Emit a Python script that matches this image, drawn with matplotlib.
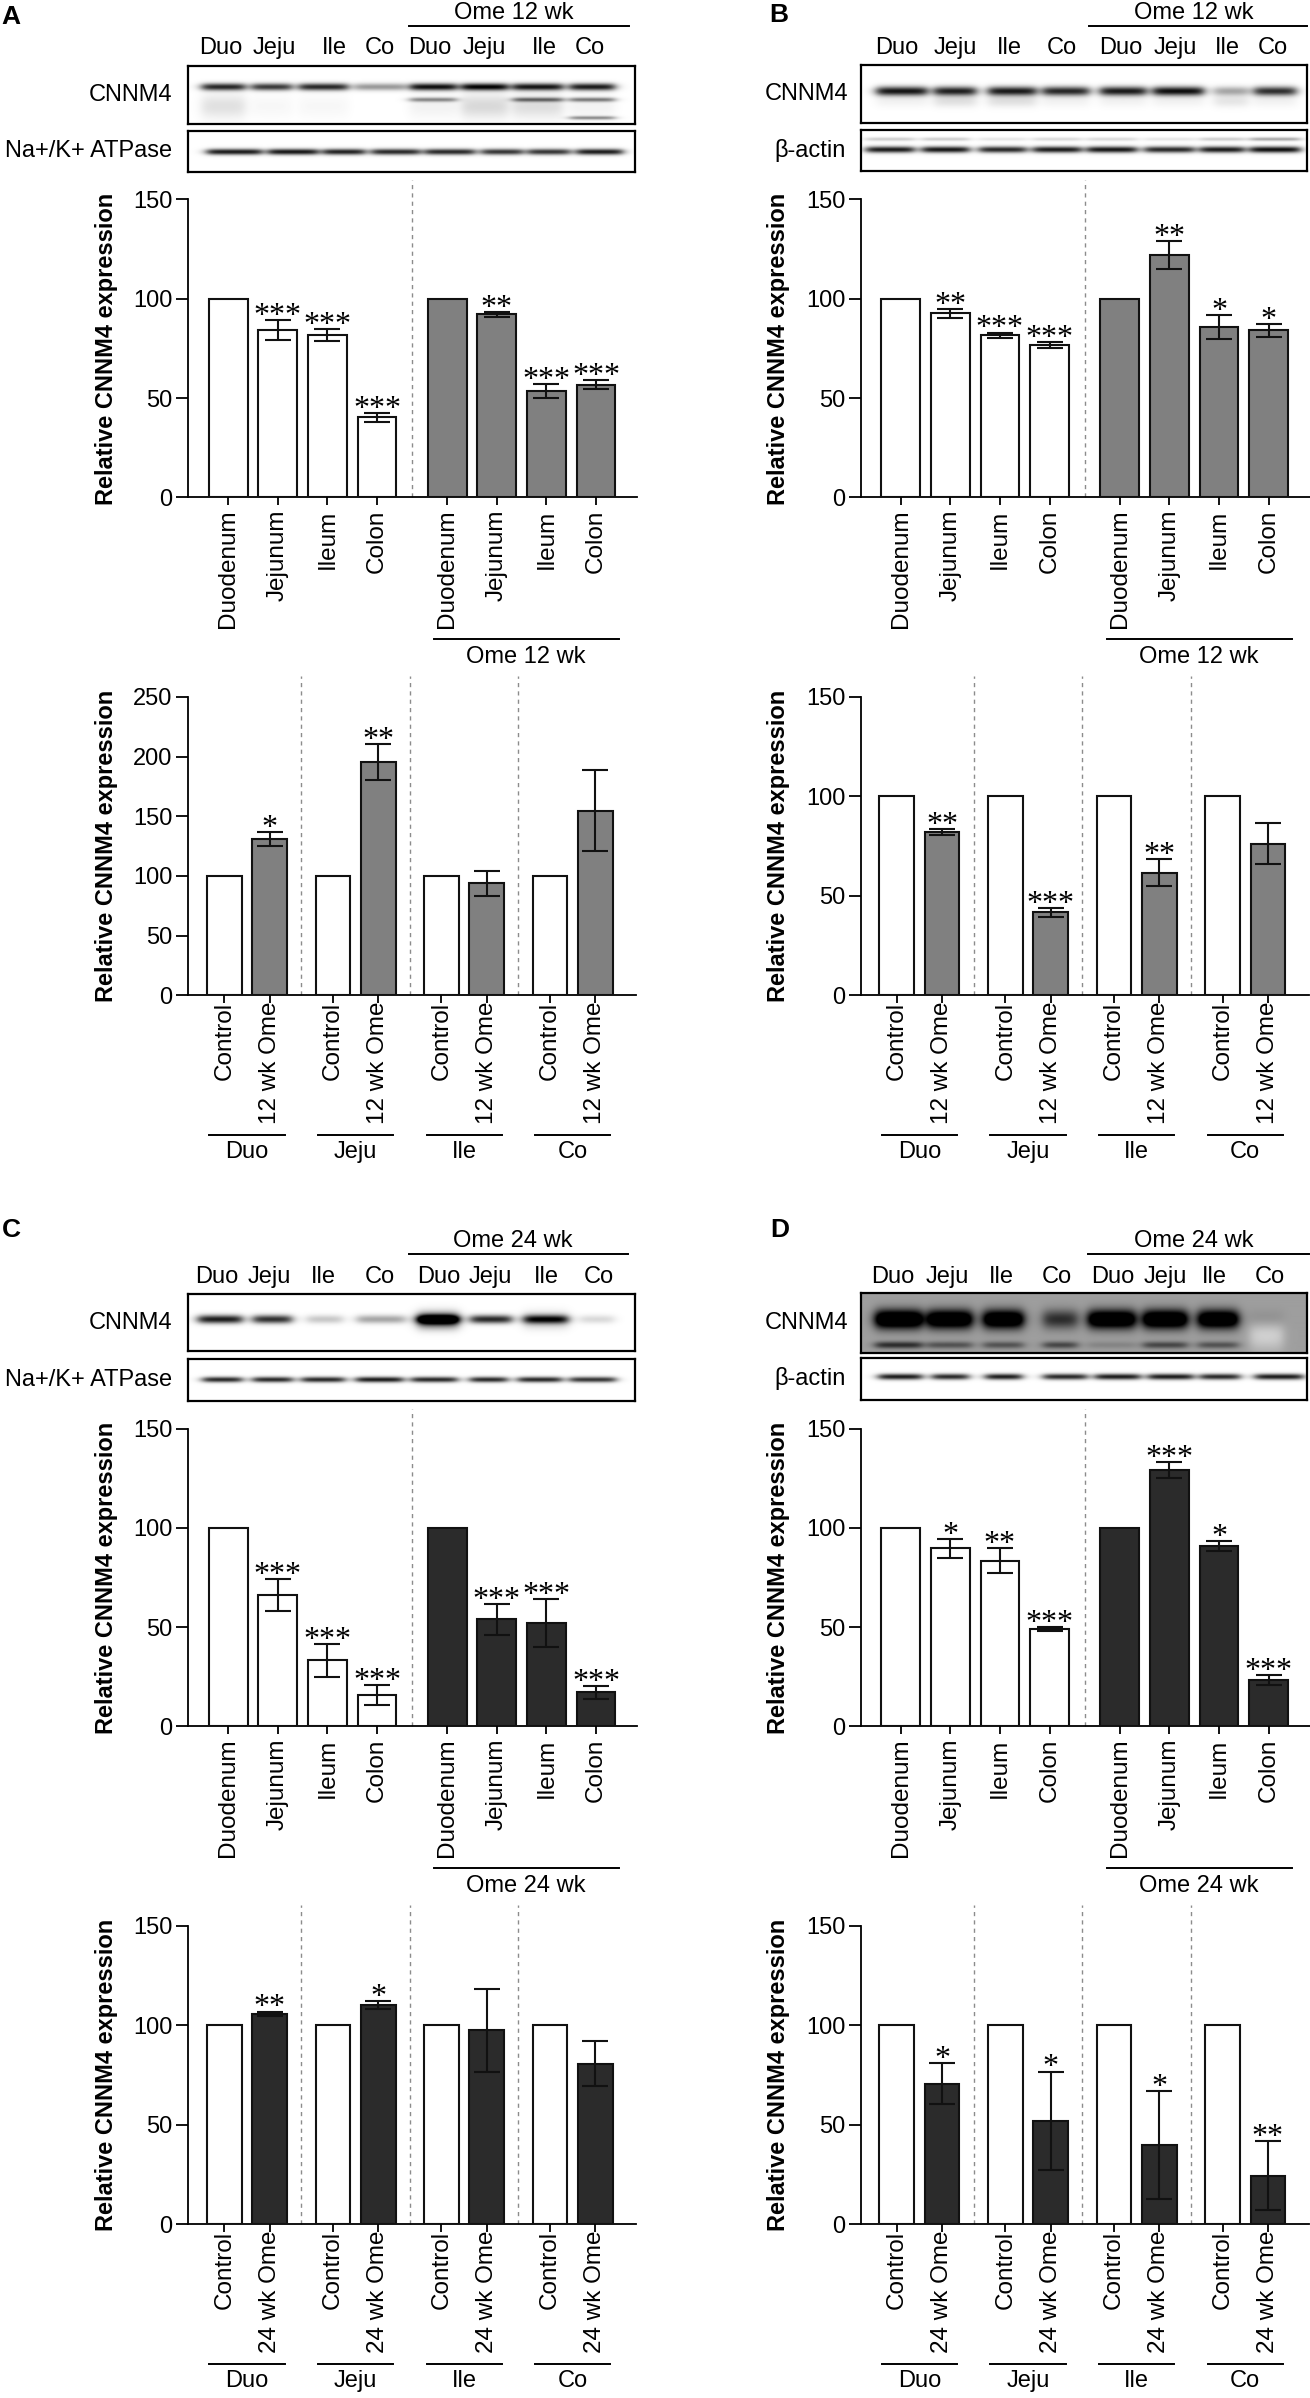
import numpy as np
import matplotlib
matplotlib.use("Agg")
import matplotlib.pyplot as plt
from matplotlib.lines import Line2D
from matplotlib.transforms import blended_transform_factory as blend

plt.rcParams['font.family'] = ['Liberation Sans', 'DejaVu Sans']

# ---------------------------------------------------------------- data
tissues = ["Duodenum", "Jejunum", "Ileum", "Colon"]
tissue_abbr = ["Duo", "Jeju", "Ile", "Co"]
lane_labels = tissue_abbr + tissue_abbr

# Panel A (12 wk, Na+/K+ ATPase)
A_ctrl_mean = [100, 84.5, 81.7, 40.3]
A_ctrl_sem = [0, 5.0, 3.0, 2.2]
A_ctrl_sig = ["", "***", "***", "***"]
A_ome_mean = [100, 92.2, 53.6, 56.7]
A_ome_sem = [0, 1.3, 3.5, 2.2]
A_ome_sig = ["", "**", "***", "***"]
A2_ctrl_mean = [100, 100, 100, 100]
A2_ome_mean = [131.0, 195.5, 93.8, 154.5]
A2_ome_sem = [6.1, 15.3, 10.6, 34.0]
A2_ome_sig = ["*", "**", "", ""]

# Panel B (12 wk, beta-actin)
B_ctrl_mean = [100, 92.6, 81.7, 76.7]
B_ctrl_sem = [0, 2.4, 1.3, 1.4]
B_ctrl_sig = ["", "**", "***", "***"]
B_ome_mean = [100, 122.0, 86.0, 84.2]
B_ome_sem = [0, 7.0, 6.0, 3.2]
B_ome_sig = ["", "**", "*", "*"]
B2_ctrl_mean = [100, 100, 100, 100]
B2_ome_mean = [82.2, 41.8, 61.7, 76.2]
B2_ome_sem = [1.4, 2.3, 6.6, 10.4]
B2_ome_sig = ["**", "***", "**", ""]

# Panel C (24 wk, Na+/K+ ATPase)
C_ctrl_mean = [100, 66.2, 33.2, 15.8]
C_ctrl_sem = [0, 7.9, 8.2, 4.9]
C_ctrl_sig = ["", "***", "***", "***"]
C_ome_mean = [100, 54.0, 52.1, 17.1]
C_ome_sem = [0, 7.8, 12.2, 3.2]
C_ome_sig = ["", "***", "***", "***"]
C2_ctrl_mean = [100, 100, 100, 100]
C2_ome_mean = [105.8, 110.2, 97.6, 80.8]
C2_ome_sem = [1.1, 2.1, 20.9, 11.4]
C2_ome_sig = ["**", "*", "", ""]

# Panel D (24 wk, beta-actin)
D_ctrl_mean = [100, 89.6, 83.4, 48.9]
D_ctrl_sem = [0, 4.7, 6.4, 1.1]
D_ctrl_sig = ["", "*", "**", "***"]
D_ome_mean = [100, 129.0, 90.8, 23.4]
D_ome_sem = [0, 4.0, 2.7, 2.4]
D_ome_sig = ["", "***", "*", "***"]
D2_ctrl_mean = [100, 100, 100, 100]
D2_ome_mean = [70.6, 52.0, 40.0, 24.5]
D2_ome_sem = [10.3, 24.8, 27.0, 17.5]
D2_ome_sig = ["*", "*", "*", "**"]

# western blot band intensities (0 = none, 1 = black), one per lane
A_cnnm4_band = [0.85, 0.78, 0.85, 0.40, 0.95, 1.0, 0.92, 0.90]
A_cnnm4_band2 = [0, 0, 0, 0, 0.45, 0, 0.55, 0.50]
A_cnnm4_band3 = [0, 0, 0, 0, 0, 0, 0, 0.45]
A_cnnm4_smear = [0.12, 0.03, 0.03, 0, 0.05, 0.15, 0.13, 0.05]
A_atpase_band = [0.90, 0.92, 0.88, 0.85, 0.85, 0.80, 0.80, 0.90]

B_cnnm4_band = [0.92, 0.88, 0.90, 0.85, 0.90, 0.95, 0.35, 0.82]
B_cnnm4_smear = [0.05, 0.12, 0.12, 0.05, 0.05, 0.05, 0.10, 0.05]
B_actin_band = [0.90, 0.92, 0.85, 0.90, 0.92, 0.85, 0.90, 0.95]
B_actin_upper = [0.20, 0.20, 0.10, 0.15, 0.15, 0.10, 0.20, 0.35]

C_cnnm4_band = [0.90, 0.82, 0.22, 0.35, 1.0, 0.85, 0.80, 0.15]
C_cnnm4_core = [0, 0, 0, 0, 0.8, 0, 0.25, 0]
C_atpase_band = [0.85, 0.85, 0.85, 0.90, 0.85, 0.85, 0.85, 0.80]

D_cnnm4_band = [1.0, 0.95, 0.95, 0.45, 0.95, 0.98, 0.95, 0.10]
D_cnnm4_band2 = [0.45, 0.30, 0.30, 0.35, 0.10, 0.35, 0.30, 0]
D_cnnm4_clear = [0, 0, 0, 0, 0, 0, 0, -0.2]
D_actin_band = [0.90, 0.85, 0.90, 0.85, 0.90, 0.90, 0.85, 0.90]

# ---------------------------------------------------------------- layout helpers
W, H = 1310, 2398
fig = plt.figure(figsize=(W / 100, H / 100), dpi=100)

GRAY = '#808080'
BLACK = '#2b2b2b'
EDGE = '#111111'
STAR = dict(family=['Liberation Serif', 'DejaVu Serif'], fontsize=23)


def ax_px(x0, y0, x1, y1):
    return fig.add_axes([x0 / W, 1 - y1 / H, (x1 - x0) / W, (y1 - y0) / H])


def ftext(x, y, s, **kw):
    kw.setdefault('fontsize', 17)
    fig.text(x / W, 1 - y / H, s, **kw)


def fline(x0, x1, y, lw=1.4):
    fig.add_artist(Line2D([x0 / W, x1 / W], [1 - y / H] * 2,
                          transform=fig.transFigure, color='black', lw=lw))


def draw_bars(ax, pos, means, sems, sigs, color, width):
    ax.bar(pos, means, width=width, color=color, edgecolor=EDGE,
           linewidth=1.5, zorder=3)
    for x, m, s, g in zip(pos, means, sems, sigs):
        if s > 0:
            ax.errorbar(x, m, yerr=s, fmt='none', ecolor=EDGE, elinewidth=1.5,
                        capsize=9.5, capthick=1.5, zorder=4)
        if g:
            ax.annotate(g, (x, m + s), xytext=(0, -2.8), textcoords='offset points',
                        ha='center', va='baseline', zorder=5, **STAR)


def style_axes(ax, width_px):
    for sp in ['top', 'right']:
        ax.spines[sp].set_visible(False)
    for sp in ['left', 'bottom']:
        ax.spines[sp].set_linewidth(1.3)
    ax.tick_params(axis='y', length=8.5, width=1.3, labelsize=17, pad=2.5)
    ax.set_ylabel('Relative CNNM4 expression', fontsize=17, fontweight='bold')
    ax.yaxis.set_label_coords(-70 / width_px, 0.5)
    ax.patch.set_alpha(0)


def vdash(ax, x, top):
    ax.plot([x, x], [0, top], transform=blend(ax.transData, ax.transAxes),
            color='#8c8c8c', lw=1.0, ls=(0, (3, 3)), clip_on=False, zorder=1)


def blot(x0, y0, x1, y1, lanes, bands, bg=1.0):
    ax = ax_px(x0, y0, x1, y1)
    nx, ny = int(round(x1 - x0)) * 2, int(round(y1 - y0)) * 2
    xs = np.linspace(x0, x1, nx)[None, :]
    ys = np.linspace(y0, y1, ny)[:, None]
    img = np.full((ny, nx), float(bg))
    for yc, sig, vals in bands:
        for (la, lb), v in zip(lanes, vals):
            if v == 0:
                continue
            mask = 1 / (1 + np.exp(-(xs - la) / 3.0)) * 1 / (1 + np.exp((xs - lb) / 3.0))
            img = img - v * np.exp(-((ys - yc) / sig) ** 2) * mask
    ax.imshow(np.clip(img, 0, 1), cmap='gray', vmin=0, vmax=1,
              extent=(x0, x1, y1, y0), aspect='auto', interpolation='bilinear')
    ax.set_xticks([])
    ax.set_yticks([])
    for s in ax.spines.values():
        s.set_linewidth(1.6)
    return ax


def top_chart(ox, oy, cm, cs, csig, om, osig_sem, osig, ocolor, ome_label):
    ax = ax_px(ox + 188, oy + 199.5, ox + 637, oy + 497.4)
    pos1 = np.arange(4)
    pos2 = pos1 + 4.415
    draw_bars(ax, pos1, cm, cs, csig, 'white', 0.78)
    draw_bars(ax, pos2, om, osig_sem, osig, ocolor, 0.78)
    ax.set_xlim(-0.81, 8.24)
    ax.set_ylim(0, 150)
    ax.set_yticks([0, 50, 100, 150])
    ax.set_xticks(np.concatenate([pos1, pos2]))
    ax.set_xticklabels(tissues + tissues, rotation=90, fontsize=17.5)
    ax.tick_params(axis='x', length=5.7, width=1.3, pad=3)
    style_axes(ax, 449)
    vdash(ax, (pos1[-1] + pos2[0]) / 2, 1.065)
    tr = blend(ax.transData, ax.transAxes)
    ax.plot([4.15, 7.88], [-0.475, -0.475], transform=tr, color='black',
            lw=1.4, clip_on=False)
    ax.text(6.0, -0.50, ome_label, transform=tr, ha='center', va='top',
            fontsize=17)
    return ax


def bottom_chart(ox, oy, cm, om, osem, osig, ocolor, ylim, yticks, ome_tick):
    ax = ax_px(ox + 188, oy + 696.8, ox + 636, oy + 995.4)
    step = 2.395
    g = np.arange(4) * step
    draw_bars(ax, g, cm, [0] * 4, [""] * 4, 'white', 0.766)
    draw_bars(ax, g + 1, om, osem, osig, ocolor, 0.766)
    ax.set_xlim(-0.80, 9.08)
    ax.set_ylim(0, ylim)
    ax.set_yticks(yticks)
    ticks = np.ravel(np.column_stack([g, g + 1]))
    ax.set_xticks(ticks)
    ax.set_xticklabels(["Control", ome_tick] * 4, rotation=90, fontsize=17.5)
    ax.tick_params(axis='x', length=5.7, width=1.3, pad=-1)
    style_axes(ax, 448)
    for k in range(3):
        vdash(ax, g[k] + 1 + (step - 1) / 2, 1.07)
    tr = blend(ax.transData, ax.transAxes)
    for k in range(4):
        c = g[k] + 0.5
        ax.plot([c - 0.83, c + 0.83], [-0.469, -0.469], transform=tr,
                color='black', lw=1.4, clip_on=False)
        ax.text(c, -0.487, tissue_abbr[k], transform=tr, ha='center', va='top',
                fontsize=17)
    return ax


def blot_header(head_x, y_lane, ome_line, y_ome, ome_label):
    x0, x1, xc = ome_line
    ftext(xc, y_ome, ome_label, ha='center', va='center')
    fline(x0, x1, y_ome + 13)
    for x, s in zip(head_x, lane_labels):
        ftext(x, y_lane, s, ha='center', va='center')


# ---------------------------------------------------------------- panel A
ftext(11, 17, 'A', fontsize=19, fontweight='bold', ha='center', va='center')
blot_header([220.5, 274, 334, 380, 430, 484, 544, 590], 47.7,
            (409, 629, 514), 13, 'Ome 12 wk')
A_c_lanes = [(201.7, 245), (251.7, 291.7), (299, 348), (355, 405),
             (410, 456.7), (461.7, 508), (513, 563), (570, 615)]
A_l_lanes = [(206.7, 261.7), (268, 318), (323, 365), (371.7, 420),
             (425, 475), (481.7, 523), (528, 570), (576.7, 623)]
blot(188, 66, 635, 123.6, A_c_lanes,
     [(86.7, 3.6, A_cnnm4_band), (99.5, 2.2, A_cnnm4_band2),
      (117.7, 1.8, A_cnnm4_band3), (106, 12, A_cnnm4_smear)])
blot(188, 131, 635, 171.7, A_l_lanes, [(151.7, 3.0, A_atpase_band)])
ftext(172.5, 94.8, 'CNNM4', ha='right', va='center')
ftext(172.5, 151.4, 'Na+/K+ ATPase', ha='right', va='center')
top_chart(0, 0, A_ctrl_mean, A_ctrl_sem, A_ctrl_sig,
          A_ome_mean, A_ome_sem, A_ome_sig, GRAY, 'Ome 12 wk')
bottom_chart(0, 0, A2_ctrl_mean, A2_ome_mean, A2_ome_sem, A2_ome_sig, GRAY,
             250, [0, 50, 100, 150, 200, 250], '12 wk Ome')

# ---------------------------------------------------------------- panel B
BX = 672.5
ftext(779, 15, 'B', fontsize=19, fontweight='bold', ha='center', va='center')
blot_header([897, 955, 1009, 1062, 1120.7, 1175, 1227, 1273], 47.7,
            (1089.4, 1306.6, 1194), 13, 'Ome 12 wk')
B_c_lanes = [(876.4, 927), (934, 976), (988, 1036), (1042.6, 1089),
             (1100, 1146), (1153, 1203.5), (1214, 1248), (1254, 1296)]
B_l_lanes = [(866, 914), (922, 969), (979, 1026), (1033, 1081),
             (1087, 1136.6), (1144.6, 1194), (1200, 1244), (1250, 1300)]
blot(861, 65, 1306.6, 122.7, B_c_lanes,
     [(91, 4.6, B_cnnm4_band), (101, 6, B_cnnm4_smear)])
blot(861, 130, 1306.6, 171, B_l_lanes,
     [(149.6, 3.2, B_actin_band), (139, 1.8, B_actin_upper)])
ftext(848, 94, 'CNNM4', ha='right', va='center')
ftext(846, 150.5, 'β-actin', ha='right', va='center')
top_chart(BX, 0, B_ctrl_mean, B_ctrl_sem, B_ctrl_sig,
          B_ome_mean, B_ome_sem, B_ome_sig, GRAY, 'Ome 12 wk')
bottom_chart(BX, 0, B2_ctrl_mean, B2_ome_mean, B2_ome_sem, B2_ome_sig, GRAY,
             150, [0, 50, 100, 150], '12 wk Ome')

# ---------------------------------------------------------------- panel C
CY = 1229
ftext(11, 1230, 'C', fontsize=19, fontweight='bold', ha='center', va='center')
blot_header([217, 269.4, 323.7, 380, 438.6, 490.8, 546, 598.6], CY + 47.7,
            (409, 628, 513), CY + 12, 'Ome 24 wk')
C_c_lanes = [(198, 242), (253, 291.6), (307, 342.5), (357, 405),
             (417.7, 458.6), (470.8, 511.7), (524, 568), (580.6, 614)]
C_l_lanes = [(202.6, 242), (252.7, 292.4), (301.6, 344.6), (356, 403),
             (411.5, 457.4), (470, 507.5), (518, 561.8), (570, 616)]
blot(188, 1294, 635, 1351.4, C_c_lanes,
     [(1320, 4.2, C_cnnm4_band), (1321, 8.0, C_cnnm4_core)])
blot(188, 1359, 635, 1401, C_l_lanes, [(1379.6, 2.8, C_atpase_band)])
ftext(172.5, 1322.7, 'CNNM4', ha='right', va='center')
ftext(172.5, 1380, 'Na+/K+ ATPase', ha='right', va='center')
top_chart(0, CY, C_ctrl_mean, C_ctrl_sem, C_ctrl_sig,
          C_ome_mean, C_ome_sem, C_ome_sig, BLACK, 'Ome 24 wk')
bottom_chart(0, CY, C2_ctrl_mean, C2_ome_mean, C2_ome_sem, C2_ome_sig, BLACK,
             150, [0, 50, 100, 150], '24 wk Ome')

# ---------------------------------------------------------------- panel D
ftext(780, 1230, 'D', fontsize=19, fontweight='bold', ha='center', va='center')
blot_header([893, 947.4, 1001.7, 1056.8, 1112.4, 1165.4, 1214.7, 1269.8],
            CY + 47.7, (1088, 1309, 1194), CY + 12, 'Ome 24 wk')
D_c_lanes = [(875, 921.7), (927, 971.7), (983, 1023), (1043, 1077),
             (1088, 1135), (1143, 1187), (1198, 1238), (1250, 1283)]
D_l_lanes = [(878, 921.7), (931.7, 968.3), (985, 1021.7), (1043, 1086.7),
             (1095, 1140), (1148, 1193), (1200, 1240), (1255, 1303)]
blot(860.7, 1293.3, 1306.7, 1352.7, D_c_lanes,
     [(1319.3, 9.5, D_cnnm4_band), (1345, 3.5, D_cnnm4_band2),
      (1335, 16, D_cnnm4_clear)], bg=0.62)
blot(860.7, 1358, 1306.7, 1400, D_l_lanes, [(1376.7, 3.0, D_actin_band)])
ftext(848, 1323, 'CNNM4', ha='right', va='center')
ftext(846, 1379, 'β-actin', ha='right', va='center')
top_chart(BX, CY, D_ctrl_mean, D_ctrl_sem, D_ctrl_sig,
          D_ome_mean, D_ome_sem, D_ome_sig, BLACK, 'Ome 24 wk')
bottom_chart(BX, CY, D2_ctrl_mean, D2_ome_mean, D2_ome_sem, D2_ome_sig, BLACK,
             150, [0, 50, 100, 150], '24 wk Ome')

fig.savefig('out.png', dpi=100, facecolor='white')
